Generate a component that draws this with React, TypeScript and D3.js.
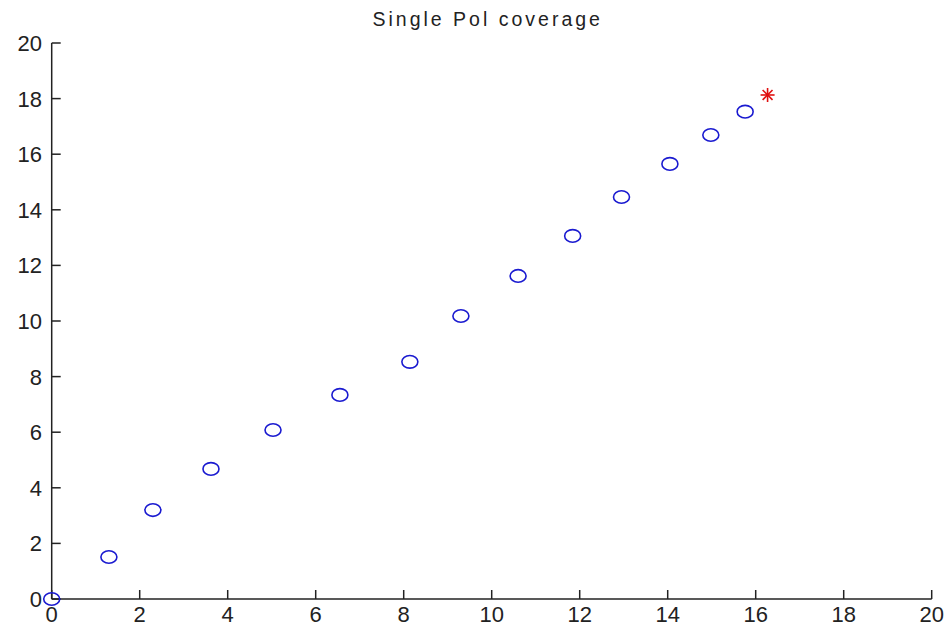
import React from "react";
import * as d3 from "d3";

const xValues = [0, 1.3, 2.3, 3.62, 5.03, 6.55, 8.14, 9.3, 10.6, 11.84, 12.95, 14.05, 14.98, 15.76];
const yValues = [0, 1.51, 3.2, 4.68, 6.08, 7.34, 8.53, 10.18, 11.62, 13.06, 14.46, 15.65, 16.69, 17.53];
const starX = [16.27];
const starY = [18.13];
const tickValues = [0, 2, 4, 6, 8, 10, 12, 14, 16, 18, 20];
const title = "Single Pol coverage";

const W = 949;
const H = 633;
const left = 51.7;
const right = 931.7;
const top = 43;
const bottom = 599;

export default function App() {
  const x = d3.scaleLinear().domain([0, 20]).range([left, right]);
  const y = d3.scaleLinear().domain([0, 20]).range([bottom, top]);
  const font = "'Liberation Sans', Arial, Helvetica, sans-serif";
  const tickLen = 9;
  const starArms = [0, 45, 90, 135];
  return (
    <svg width={W} height={H} style={{ position: "absolute", left: 0, top: 0, background: "#fff" }}>
      <rect x={0} y={0} width={W} height={H} fill="#fff" />
      <text x={(left + right) / 2 - 4} y={26} textAnchor="middle" fontFamily={font} fontSize={19.5} letterSpacing={3} fill="#222">
        {title}
      </text>
      {/* axes */}
      <line x1={left} x2={left} y1={top} y2={bottom} stroke="#222" strokeWidth={1.5} />
      <line x1={left} x2={right} y1={bottom} y2={bottom} stroke="#222" strokeWidth={1.5} />
      {tickValues.map((t) => (
        <g key={"x" + t}>
          <line x1={x(t)} x2={x(t)} y1={bottom} y2={bottom - tickLen} stroke="#222" strokeWidth={1.5} />
          <text x={x(t)} y={622} textAnchor="middle" fontFamily={font} fontSize={22} fill="#222">{t}</text>
        </g>
      ))}
      {tickValues.map((t) => (
        <g key={"y" + t}>
          <line x1={left} x2={left + tickLen} y1={y(t)} y2={y(t)} stroke="#222" strokeWidth={1.5} />
          <text x={42} y={y(t) + 8} textAnchor="end" fontFamily={font} fontSize={22} fill="#222">{t}</text>
        </g>
      ))}
      {xValues.map((v, i) => (
        <ellipse key={"c" + i} cx={x(v)} cy={y(yValues[i])} rx={8} ry={6.3} fill="none" stroke="#1a1ad0" strokeWidth={1.6} />
      ))}
      {starX.map((v, i) => (
        <g key={"s" + i} transform={`translate(${x(v)},${y(starY[i])})`}>
          {starArms.map((a) => (
            <line key={a} x1={-7} x2={7} y1={0} y2={0} transform={`rotate(${a})`} stroke="#e01010" strokeWidth={1.6} />
          ))}
        </g>
      ))}
    </svg>
  );
}
